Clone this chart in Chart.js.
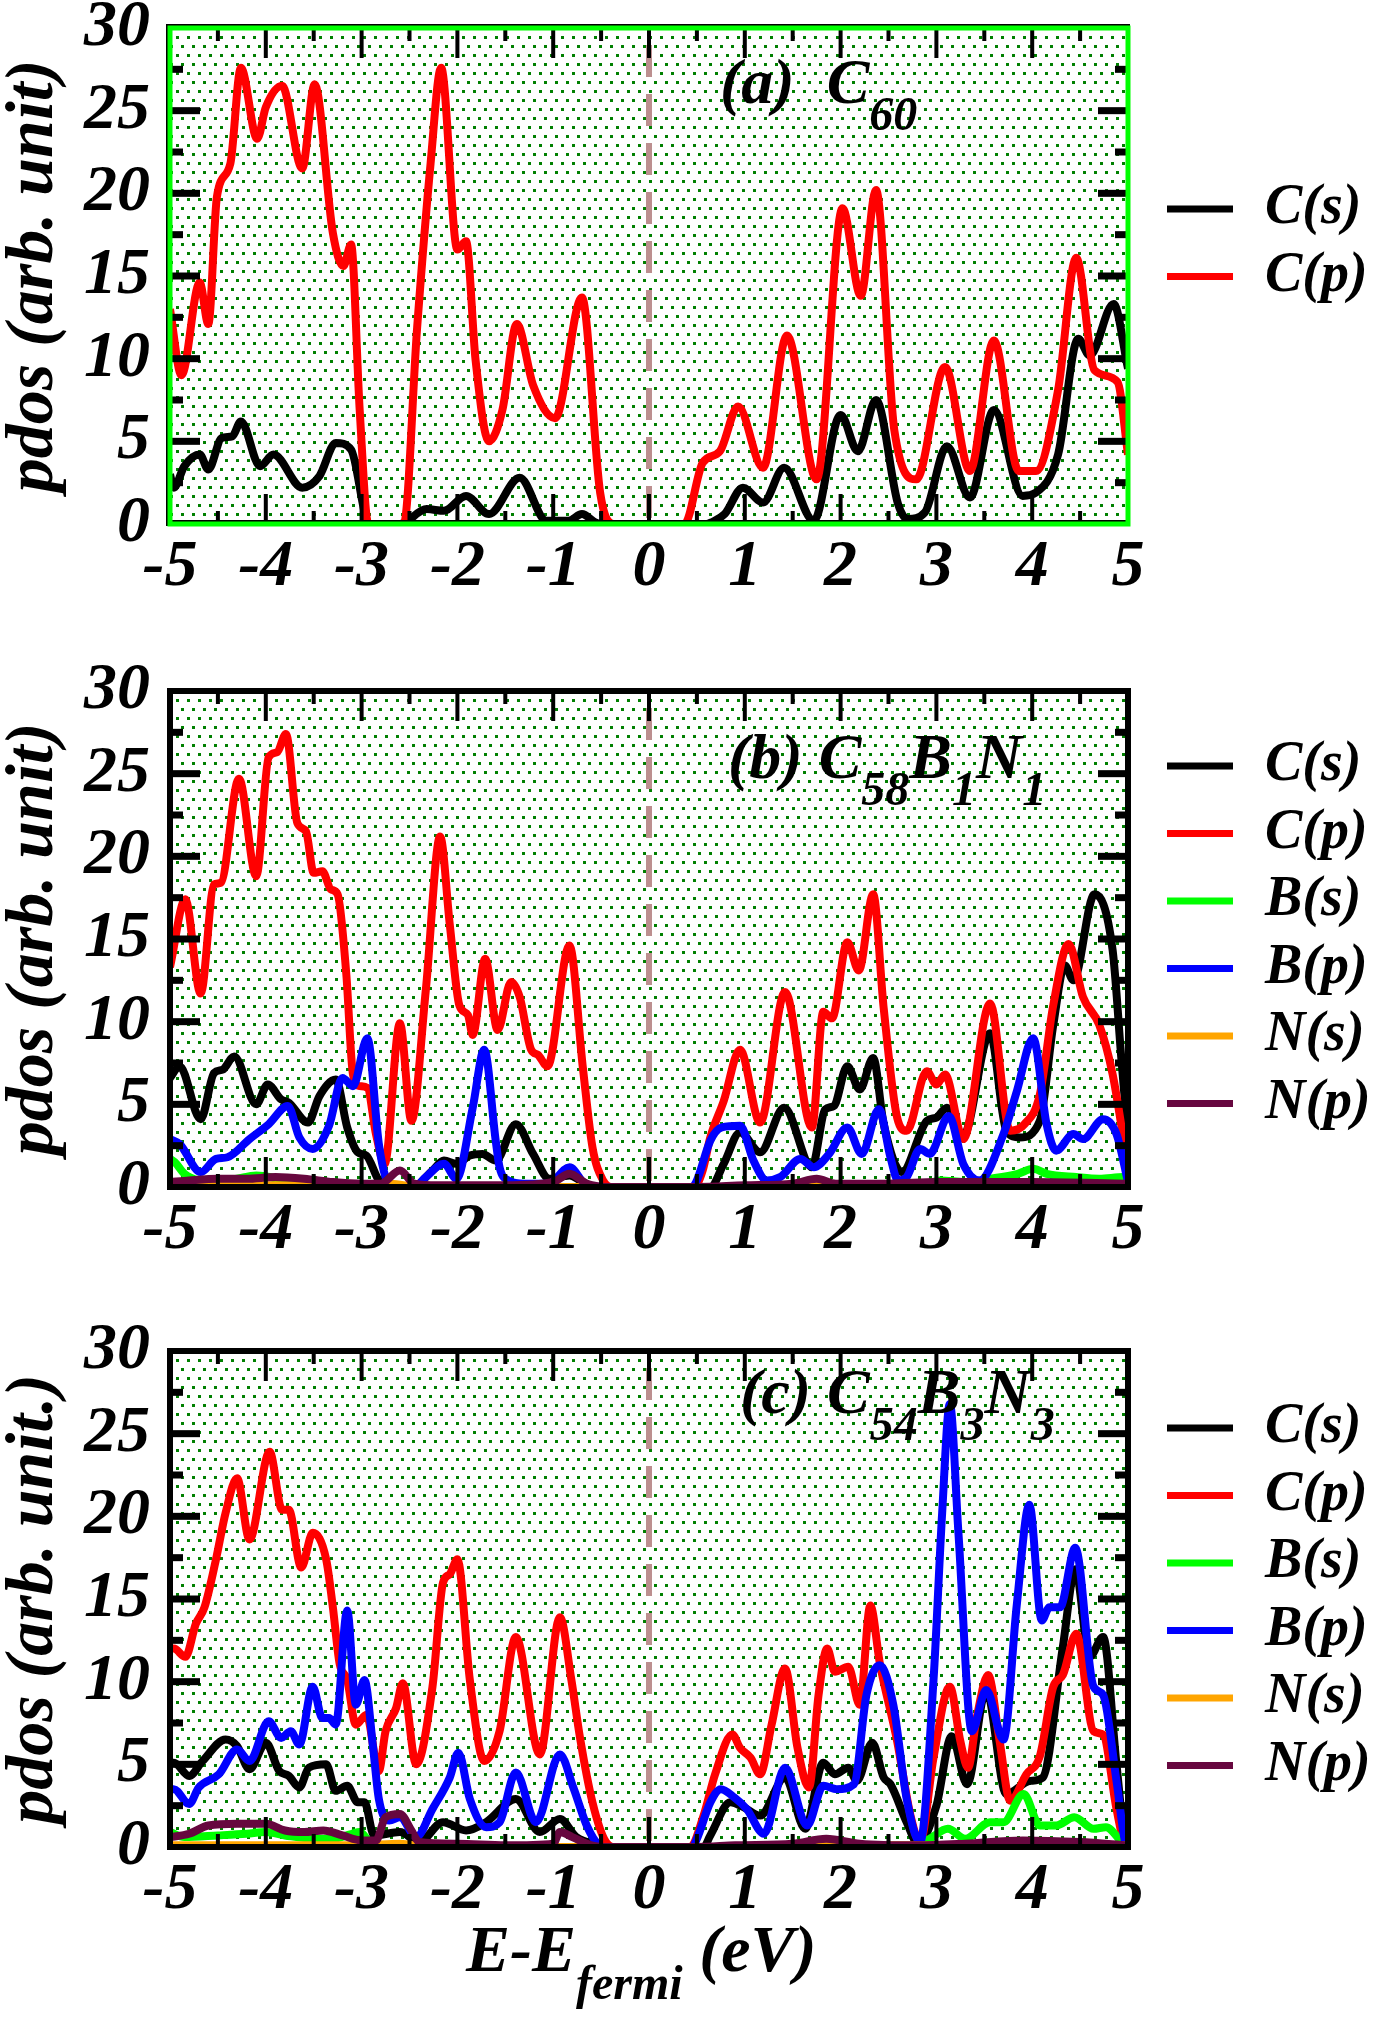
<!DOCTYPE html>
<html>
<head>
<meta charset="utf-8">
<script src="https://cdn.jsdelivr.net/npm/chart.js@4.4.0/dist/chart.umd.min.js"></script>
<style>
  html, body { margin: 0; padding: 0; background: #fff; }
  body { width: 1392px; height: 2017px; position: relative; overflow: hidden; }
  canvas { position: absolute; left: 0; }
</style>
</head>
<body>
<canvas id="panelA" width="1392" height="663" style="top:0px"></canvas>
<canvas id="panelB" width="1392" height="663" style="top:663px"></canvas>
<canvas id="panelC" width="1392" height="694" style="top:1323px"></canvas>
<script>
/* ========== Data: [energy (eV), pdos] ========== */
const xTicks = [-5, -4, -3, -2, -1, 0, 1, 2, 3, 4, 5];
const yTicks = [0, 5, 10, 15, 20, 25, 30];

// (a) C60
const aCs = [[-5,3.0],[-4.96,2.2],[-4.85,3.5],[-4.69,4.2],[-4.6,3.3],[-4.46,5.2],[-4.35,5.3],[-4.26,6.2],[-4.06,3.5],[-3.92,4.2],[-3.62,2.2],[-3.44,2.9],[-3.27,4.9],[-3.11,4.5],[-2.95,0.3],[-2.9,0],[-2.6,0],[-2.32,0.9],[-2.14,0.8],[-1.91,1.7],[-1.67,0.6],[-1.35,2.8],[-1.07,0.2],[-0.84,0.2],[-0.7,0.6],[-0.56,0.1],[-0.5,0],[0.6,0],[0.65,0.1],[0.79,0.6],[0.98,2.2],[1.19,1.3],[1.41,3.4],[1.72,0.2],[2.0,6.6],[2.18,4.4],[2.37,7.5],[2.6,1.2],[2.7,0.3],[2.88,0.7],[3.11,4.7],[3.35,1.6],[3.6,6.9],[3.9,1.7],[4.04,1.9],[4.27,4.2],[4.48,11.2],[4.6,10.2],[4.85,13.3],[5,9.4]];
const aCp = [[-5,13.0],[-4.88,9.0],[-4.69,14.6],[-4.6,12.1],[-4.51,19.8],[-4.37,21.8],[-4.26,27.6],[-4.09,23.3],[-4.0,25.2],[-3.83,26.5],[-3.62,21.5],[-3.49,26.6],[-3.3,17.6],[-3.19,15.6],[-3.11,16.9],[-3.02,6.9],[-2.93,0],[-2.56,0],[-2.42,11.9],[-2.28,21.8],[-2.17,27.6],[-2.0,16.6],[-1.91,17.1],[-1.81,9.9],[-1.67,5.0],[-1.53,6.9],[-1.38,12.1],[-1.21,8.4],[-0.98,6.4],[-0.7,13.7],[-0.51,1.9],[-0.37,0],[0.37,0],[0.56,3.7],[0.74,4.4],[0.93,7.1],[1.19,3.4],[1.44,11.4],[1.75,2.7],[2.02,19.1],[2.21,13.8],[2.37,20.2],[2.56,5.7],[2.79,2.7],[3.09,9.5],[3.35,3.2],[3.6,11.1],[3.86,3.2],[4.04,3.2],[4.27,8.1],[4.46,16.1],[4.65,9.3],[4.89,8.6],[5,4.2]];

// (b) C58B1N1
const bCs = [[-5,6.6],[-4.9,7.3],[-4.68,4.1],[-4.54,6.9],[-4.45,7.1],[-4.33,7.9],[-4.1,5.0],[-3.98,6.2],[-3.84,5.3],[-3.76,5.1],[-3.56,3.9],[-3.44,5.5],[-3.27,6.5],[-3.15,3.6],[-3.04,2.1],[-2.95,1.9],[-2.82,0.4],[-2.72,0],[-2.47,0],[-2.26,1.0],[-2.14,1.6],[-2.01,1.4],[-1.87,1.9],[-1.74,2.0],[-1.6,1.6],[-1.39,3.8],[-1.21,2.0],[-1.04,0.5],[-0.83,0.7],[-0.69,0.3],[-0.55,0],[0.64,0],[0.78,1.4],[0.95,3.3],[1.16,2.1],[1.41,4.8],[1.7,1.2],[1.84,4.7],[1.93,4.9],[2.07,7.3],[2.2,5.9],[2.34,7.8],[2.45,3.8],[2.64,0.9],[2.9,4.0],[3.0,4.2],[3.11,4.8],[3.28,3.1],[3.56,9.3],[3.73,3.4],[3.87,3.0],[4.08,4.0],[4.22,9.8],[4.34,13.4],[4.43,12.5],[4.65,17.7],[4.84,14.3],[4.93,7.8],[5,3.0]];
const bCp = [[-5,13.3],[-4.84,17.4],[-4.68,11.7],[-4.54,18.3],[-4.47,18.4],[-4.28,24.7],[-4.1,18.8],[-3.97,26.0],[-3.88,26.3],[-3.79,27.4],[-3.67,22.0],[-3.58,21.5],[-3.5,19.0],[-3.41,19.1],[-3.32,18.0],[-3.25,17.7],[-3.16,12.9],[-3.09,6.8],[-3.02,6.1],[-2.94,6.0],[-2.85,3.2],[-2.76,1.4],[-2.6,9.9],[-2.48,4.0],[-2.33,11.9],[-2.18,21.2],[-2.08,15.9],[-1.98,11.0],[-1.89,10.4],[-1.84,9.2],[-1.71,13.8],[-1.58,9.5],[-1.44,12.4],[-1.35,11.5],[-1.23,8.3],[-1.16,8.0],[-1.06,7.3],[-0.83,14.6],[-0.69,7.2],[-0.59,2.4],[-0.48,0.4],[-0.38,0],[0.47,0],[0.56,1.0],[0.64,3.0],[0.78,5.2],[0.95,8.3],[1.16,3.9],[1.42,11.8],[1.7,3.6],[1.82,10.6],[1.91,10.2],[2.07,14.8],[2.19,13.1],[2.34,17.7],[2.45,10.8],[2.59,4.2],[2.69,3.4],[2.9,7.0],[3.0,6.2],[3.09,6.8],[3.28,2.9],[3.56,11.1],[3.77,3.4],[3.92,3.8],[4.08,5.6],[4.22,11.0],[4.38,14.7],[4.53,11.5],[4.7,9.8],[4.84,6.8],[4.97,2.2],[5,1.0]];
const bBs = [[-5,1.7],[-4.95,1.5],[-4.85,0.8],[-4.7,0.4],[-4.5,0.3],[-4.3,0.5],[-4.1,0.7],[-3.95,0.6],[-3.8,0.3],[-3.6,0.2],[-3.3,0.2],[-3.0,0.1],[-2.8,0],[2.8,0],[3.04,0.4],[3.3,0.3],[3.56,0.5],[3.85,0.8],[4.01,1.1],[4.15,0.8],[4.46,0.6],[4.7,0.5],[4.95,0.6],[5,0.4]];
const bBp = [[-5,2.9],[-4.9,2.6],[-4.68,0.9],[-4.52,1.7],[-4.4,1.8],[-4.17,2.9],[-3.97,3.8],[-3.77,4.9],[-3.65,3.0],[-3.51,2.3],[-3.34,3.7],[-3.2,6.6],[-3.09,6.1],[-2.94,9.0],[-2.82,2.6],[-2.75,0.6],[-2.65,0],[-2.45,0],[-2.33,0.6],[-2.14,1.4],[-2.01,0.5],[-1.84,4.8],[-1.72,8.3],[-1.6,2.8],[-1.56,1.2],[-1.47,0.4],[-1.3,0.2],[-1.05,0.2],[-0.83,1.2],[-0.65,0.1],[-0.5,0],[0.45,0],[0.5,0.4],[0.64,2.8],[0.76,3.6],[0.95,3.7],[1.09,1.6],[1.23,0.4],[1.37,0.6],[1.58,1.7],[1.72,1.2],[1.88,2.0],[2.07,3.6],[2.22,2.0],[2.4,4.7],[2.52,1.8],[2.6,0.4],[2.69,0.6],[2.83,2.3],[2.93,2.0],[3.13,4.3],[3.28,1.4],[3.45,0.4],[3.7,3.2],[3.84,5.8],[4.01,9.0],[4.15,3.8],[4.25,2.2],[4.43,3.2],[4.53,2.9],[4.74,4.1],[4.88,3.2],[5,0.3]];
const bNs = [[-5,0.1],[-3,0.1],[-2.7,0.2],[-2.4,0],[0.6,0],[1.8,0.1],[5,0.1]];
const bNp = [[-5,0.3],[-4.8,0.4],[-4.5,0.5],[-4.2,0.5],[-3.9,0.6],[-3.6,0.5],[-3.3,0.3],[-3.0,0.2],[-2.8,0.2],[-2.6,1.0],[-2.45,0.2],[-2.2,0.1],[-1.5,0.1],[-1.0,0.3],[-0.83,0.8],[-0.65,0.2],[-0.4,0],[0.5,0],[1.0,0.1],[1.5,0.2],[1.75,0.5],[1.95,0.2],[2.5,0.2],[3.0,0.3],[4.0,0.3],[5,0.2]];

// (c) C54B3N3
const cCs = [[-5,5.1],[-4.96,5.1],[-4.8,4.3],[-4.66,5.2],[-4.42,6.5],[-4.3,6.1],[-4.17,4.7],[-4.0,6.3],[-3.86,4.6],[-3.76,4.3],[-3.65,3.6],[-3.55,4.8],[-3.37,5.0],[-3.27,3.4],[-3.15,3.7],[-3.04,2.7],[-2.97,2.7],[-2.87,0.7],[-2.6,0.9],[-2.4,0.3],[-2.15,1.5],[-1.91,1.0],[-1.7,1.5],[-1.39,2.9],[-1.14,0.9],[-0.93,1.7],[-0.76,0.6],[-0.52,0.1],[-0.45,0],[0.57,0],[0.64,0.7],[0.85,2.7],[0.99,2.4],[1.16,1.9],[1.42,4.2],[1.63,1.1],[1.82,5.1],[1.94,4.4],[2.08,4.8],[2.17,4.0],[2.33,6.3],[2.45,4.2],[2.52,3.8],[2.69,1.5],[2.81,0.2],[3.0,2.5],[3.16,6.7],[3.32,3.8],[3.52,9.5],[3.73,3.2],[3.98,4.0],[4.11,4.2],[4.32,12.1],[4.45,16.8],[4.6,11.5],[4.74,12.7],[4.88,5.0],[4.97,0.3],[5,0]];
const cCp = [[-5,12.0],[-4.96,12.0],[-4.84,11.5],[-4.73,13.5],[-4.64,14.5],[-4.52,17.4],[-4.42,20.2],[-4.3,22.3],[-4.17,18.6],[-3.96,23.9],[-3.83,20.4],[-3.76,20.4],[-3.63,16.9],[-3.51,19.0],[-3.37,17.4],[-3.3,14.5],[-3.23,11.1],[-3.15,10.1],[-3.06,7.4],[-2.95,8.0],[-2.82,4.6],[-2.75,7.0],[-2.64,8.4],[-2.57,9.9],[-2.43,5.0],[-2.26,9.7],[-2.15,16.0],[-2.08,16.5],[-2.0,17.4],[-1.87,10.1],[-1.72,5.2],[-1.56,7.0],[-1.39,12.7],[-1.14,5.6],[-0.93,13.9],[-0.81,10.1],[-0.72,6.6],[-0.59,2.7],[-0.45,0.3],[-0.35,0],[0.43,0],[0.57,1.9],[0.69,4.4],[0.87,6.8],[0.95,6.0],[1.06,5.4],[1.16,4.4],[1.28,7.4],[1.42,10.8],[1.55,6.0],[1.67,3.6],[1.77,9.2],[1.86,12.0],[1.94,10.6],[2.08,10.9],[2.2,8.6],[2.31,14.6],[2.41,11.1],[2.59,6.4],[2.73,1.9],[2.83,0.3],[2.97,5.4],[3.14,9.7],[3.25,6.4],[3.33,4.8],[3.42,7.8],[3.54,10.4],[3.66,6.4],[3.77,2.8],[3.94,4.4],[4.08,5.5],[4.22,9.7],[4.32,10.4],[4.46,12.9],[4.64,7.0],[4.74,6.8],[4.88,2.3],[4.97,0.1],[5,0]];
const cBs = [[-5,0.9],[-4.85,0.6],[-4.5,0.7],[-4.2,0.8],[-4.0,0.9],[-3.8,0.7],[-3.5,0.5],[-3.3,0.5],[-3.1,0.8],[-3.02,0.9],[-2.9,0.2],[-2.8,0],[2.75,0],[2.93,0.5],[3.12,1.1],[3.3,0.5],[3.56,1.5],[3.7,1.5],[3.91,3.2],[4.08,1.3],[4.25,1.3],[4.44,1.8],[4.64,1.1],[4.77,1.2],[4.95,0.2],[5,0]];
const cBp = [[-5,3.5],[-4.96,3.5],[-4.8,2.6],[-4.7,3.6],[-4.49,4.4],[-4.3,5.9],[-4.17,5.2],[-3.97,7.6],[-3.84,6.6],[-3.74,7.0],[-3.65,6.2],[-3.51,9.7],[-3.41,7.8],[-3.34,7.8],[-3.27,7.4],[-3.15,14.3],[-3.06,8.6],[-2.97,10.1],[-2.88,6.0],[-2.82,2.9],[-2.71,1.6],[-2.6,1.8],[-2.43,0.6],[-2.26,2.3],[-2.08,4.2],[-1.99,5.7],[-1.87,2.9],[-1.7,1.2],[-1.56,1.5],[-1.39,4.5],[-1.18,1.5],[-0.93,5.6],[-0.79,3.6],[-0.65,1.3],[-0.52,0.1],[-0.45,0],[0.45,0],[0.5,0.5],[0.64,2.7],[0.75,3.5],[0.89,3.0],[1.02,2.3],[1.2,0.8],[1.42,4.8],[1.65,1.3],[1.82,3.7],[1.96,3.5],[2.14,3.8],[2.27,9.2],[2.41,11.0],[2.55,8.6],[2.69,2.9],[2.83,0.3],[2.97,10.1],[3.06,20.2],[3.14,26.8],[3.23,19.0],[3.37,7.0],[3.52,9.5],[3.7,6.5],[3.84,14.7],[3.97,20.7],[4.1,13.7],[4.18,14.5],[4.29,14.5],[4.45,18.1],[4.64,9.7],[4.74,9.2],[4.88,4.0],[4.97,0.3],[5,0]];
const cNs = [[-5,0.1],[-3,0.1],[-2.6,0.2],[-2.3,0],[0.6,0],[2,0.1],[5,0.1]];
const cNp = [[-5,0.6],[-4.8,0.8],[-4.6,1.3],[-4.3,1.4],[-4.0,1.4],[-3.8,1.0],[-3.6,0.9],[-3.4,1.0],[-3.2,0.7],[-3.0,0.4],[-2.85,0.4],[-2.75,1.8],[-2.6,2.0],[-2.48,1.0],[-2.4,0.3],[-2.0,0.2],[-1.5,0.1],[-1.0,0.2],[-0.93,0.9],[-0.8,0.6],[-0.6,0.1],[-0.4,0],[0.5,0],[0.9,0.1],[1.5,0.2],[1.85,0.5],[2.2,0.2],[2.8,0.1],[3.3,0.2],[3.9,0.4],[4.5,0.3],[5,0.1]];

/* ========== Styling ========== */
const SERIF = '"Liberation Serif", "DejaVu Serif", serif';
const colors = { Cs: '#000000', Cp: '#ff0000', Bs: '#00ff00', Bp: '#0000ff', Ns: '#ffa500', Np: '#67073f' };

// green dotted fill of the plot area
const dotTile = document.createElement('canvas');
dotTile.width = 11; dotTile.height = 18;
const tctx = dotTile.getContext('2d');
tctx.fillStyle = '#ffffff'; tctx.fillRect(0, 0, 11, 18);
tctx.fillStyle = '#008000';
tctx.fillRect(0, 0, 3, 3);
tctx.fillRect(5, 9, 3, 3);

function series(label, pts, color, order) {
  return {
    label, order,
    data: pts.map(p => ({ x: p[0], y: p[1] })),
    borderColor: color, backgroundColor: color,
    borderWidth: 8, pointRadius: 0, fill: false,
    cubicInterpolationMode: 'monotone'
  };
}

// draws a run of text pieces, every other one as a subscript
function drawPieces(ctx, pieces, x, base, size, subSize, subDrop) {
  ctx.textBaseline = 'alphabetic';
  ctx.textAlign = 'left';
  pieces.forEach((t, i) => {
    const sub = i % 2 === 1;
    ctx.font = `italic bold ${sub ? subSize : size}px ${SERIF}`;
    ctx.fillText(t, x, sub ? base + subDrop : base);
    x += ctx.measureText(t).width;
  });
}

/* ========== Frame, ticks, legend, labels plugin ========== */
const pdosDecor = {
  id: 'pdosDecor',
  beforeDatasetsDraw(chart) {
    const { ctx, chartArea: a, scales: { x } } = chart;
    ctx.save();
    ctx.fillStyle = ctx.createPattern(dotTile, 'repeat');
    ctx.fillRect(a.left, a.top, a.width, a.height);
    const x0 = x.getPixelForValue(0);
    ctx.strokeStyle = '#bc8f8f';
    ctx.lineWidth = 6;
    ctx.setLineDash([32, 17]);
    ctx.lineDashOffset = 32;
    ctx.beginPath(); ctx.moveTo(x0, a.top); ctx.lineTo(x0, a.bottom); ctx.stroke();
    ctx.restore();
  },
  afterDatasetsDraw(chart, args, opts) {
    const { ctx, chartArea: a, scales: { x, y } } = chart;
    ctx.save();
    ctx.fillStyle = '#000';
    // x ticks (top & bottom), every 0.5
    for (let v = -4.5; v < 5; v += 0.5) {
      const px = x.getPixelForValue(v);
      const len = Number.isInteger(v) ? 30 : 13;
      ctx.fillRect(px - 2, a.top, 4, len);
      ctx.fillRect(px - 2, a.bottom - len, 4, len);
    }
    // y ticks (left & right), every 2.5
    for (let v = 2.5; v < 30; v += 2.5) {
      const py = y.getPixelForValue(v);
      const len = v % 5 === 0 ? 30 : 13;
      ctx.fillRect(a.left, py - 3.5, len, 7);
      ctx.fillRect(a.right - len, py - 3.5, len, 7);
    }
    // frame
    if (opts.frame === 'green') {
      ctx.fillRect(a.left - 4, a.top - 4, 2, a.height + 6);
      ctx.fillRect(a.left - 4, a.top - 4, a.width + 6, 2);
      ctx.fillRect(a.left, a.bottom - 4, a.width, 2);
      ctx.strokeStyle = '#00ff00';
      ctx.lineWidth = 5;
    } else {
      ctx.strokeStyle = '#000';
      ctx.lineWidth = 6;
    }
    ctx.strokeRect(a.left, a.top, a.width, a.height);

    // legend
    chart.data.datasets.forEach((ds, i) => {
      const ly = a.top + opts.legendTop + i * 67.5;
      ctx.fillStyle = ds.borderColor;
      ctx.fillRect(1167, ly - 3.5, 66, 7);
      ctx.fillStyle = '#000';
      ctx.font = `italic bold 56px ${SERIF}`;
      ctx.textAlign = 'left';
      ctx.textBaseline = 'middle';
      ctx.fillText(ds.label, 1265, ly);
    });

    // panel label
    ctx.fillStyle = '#000';
    drawPieces(ctx, opts.title, opts.titleX, a.top + opts.titleBase, 64, 48, 27);

    // x-axis title
    if (opts.xTitle) {
      drawPieces(ctx, ['E-E', 'fermi', ' (eV)'], 466, a.bottom + 124, 66, 48, 28);
    }
    ctx.restore();
  }
};

function makePanel(id, datasets, decor, yTitle) {
  new Chart(document.getElementById(id), {
    type: 'line',
    data: { datasets },
    plugins: [pdosDecor],
    options: {
      responsive: false,
      animation: false,
      devicePixelRatio: 1,
      layout: { padding: { top: 28, right: 264, left: 0, bottom: 0 } },
      plugins: { legend: { display: false }, tooltip: { enabled: false }, pdosDecor: decor },
      scales: {
        x: {
          type: 'linear', min: -5, max: 5,
          grid: { display: false, drawTicks: false },
          border: { display: false },
          afterFit: axis => {
            axis.height = axis.chart.height - 524;
            axis.paddingLeft = 0; axis.paddingRight = 0;
          },
          afterBuildTicks: axis => { axis.ticks = xTicks.map(v => ({ value: v })); },
          ticks: {
            autoSkip: false, maxRotation: 0, padding: 4, color: '#000',
            font: { family: SERIF, size: 66, style: 'italic', weight: 'bold', lineHeight: 1.2 },
            callback: v => String(v)
          }
        },
        y: {
          min: 0, max: 30,
          grid: { display: false, drawTicks: false },
          border: { display: false },
          afterFit: axis => {
            axis.width = 170;
            axis.paddingTop = 0; axis.paddingBottom = 0;
          },
          afterBuildTicks: axis => { axis.ticks = yTicks.map(v => ({ value: v })); },
          ticks: {
            autoSkip: false, padding: 20, color: '#000',
            font: { family: SERIF, size: 66, style: 'italic', weight: 'bold', lineHeight: 1.2 },
            callback: v => String(v)
          },
          title: {
            display: true, text: yTitle, color: '#000', padding: 0,
            font: { family: SERIF, size: 68, style: 'italic', weight: 'bold', lineHeight: 1.0 }
          }
        }
      }
    }
  });
}

/* ========== Panels ========== */
makePanel('panelA', [
  series('C(s)', aCs, colors.Cs, 5),
  series('C(p)', aCp, colors.Cp, 4)
], { frame: 'green', legendTop: 181, title: ['(a)  C', '60'], titleX: 720, titleBase: 75 }, 'pdos (arb. unit)');

makePanel('panelB', [
  series('C(s)', bCs, colors.Cs, 5),
  series('C(p)', bCp, colors.Cp, 4),
  series('B(s)', bBs, colors.Bs, 3),
  series('B(p)', bBp, colors.Bp, 2),
  series('N(s)', bNs, colors.Ns, 1),
  series('N(p)', bNp, colors.Np, 0)
], { frame: 'black', legendTop: 75, title: ['(b) C', '58', 'B', '1', 'N', '1'], titleX: 728, titleBase: 87 }, 'pdos (arb. unit)');

makePanel('panelC', [
  series('C(s)', cCs, colors.Cs, 5),
  series('C(p)', cCp, colors.Cp, 4),
  series('B(s)', cBs, colors.Bs, 3),
  series('B(p)', cBp, colors.Bp, 2),
  series('N(s)', cNs, colors.Ns, 1),
  series('N(p)', cNp, colors.Np, 0)
], { frame: 'black', legendTop: 77, title: ['(c) C', '54', 'B', '3', 'N', '3'], titleX: 740, titleBase: 62, xTitle: true }, 'pdos (arb. unit.)');
</script>
</body>
</html>
